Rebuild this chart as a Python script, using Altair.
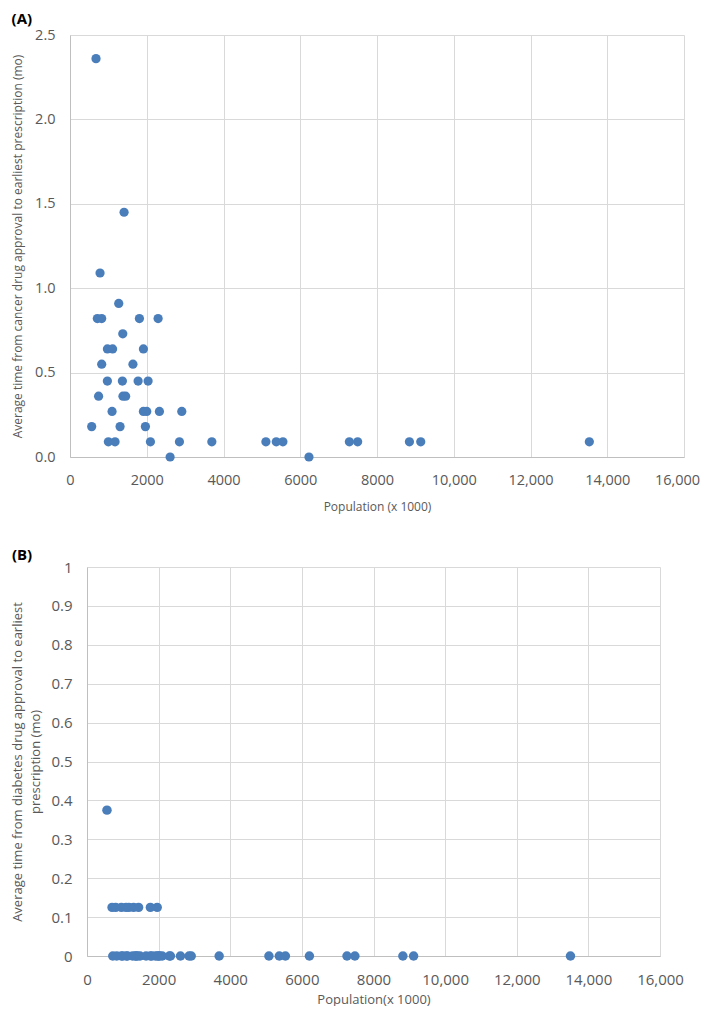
import altair as alt
import pandas as pd

# Panel A: cancer drugs
pop_a = [565, 678, 713, 745, 783, 826, 826, 975, 974, 1000, 1096, 1110, 1174, 1270, 1305,
         1375, 1365, 1409, 1380, 1450, 1640, 1775, 1809, 1913, 1913, 1965, 2000, 2035, 2096,
         2296, 2330, 2609, 2852, 2913, 3696, 5105, 5375, 5548, 6227, 7280, 7496, 8845, 9140, 13533]
time_a = [0.18, 2.36, 0.82, 0.36, 1.09, 0.82, 0.55, 0.64, 0.45, 0.09, 0.27, 0.64, 0.09, 0.91, 0.18,
          0.73, 0.45, 1.45, 0.36, 0.36, 0.55, 0.45, 0.82, 0.64, 0.27, 0.18, 0.27, 0.45, 0.09,
          0.82, 0.27, 0.0, 0.09, 0.27, 0.09, 0.09, 0.09, 0.09, 0.0, 0.09, 0.09, 0.09, 0.09, 0.09]

# Panel B: diabetes drugs
pop_b = [558,
         700, 800, 960, 1090, 1170, 1300, 1440, 1770, 1960,
         720, 830, 960, 1000, 1100, 1130, 1270, 1350, 1370, 1410, 1480, 1650, 1770, 1810,
         1910, 1970, 2000, 2030, 2100, 2300, 2330, 2610, 2850, 2910, 3690, 5080, 5370,
         5540, 6210, 7260, 7480, 8820, 9120, 13500]
time_b = [0.375,
          0.125, 0.125, 0.125, 0.125, 0.125, 0.125, 0.125, 0.125, 0.125,
          0, 0, 0, 0, 0, 0, 0, 0, 0, 0, 0, 0, 0, 0,
          0, 0, 0, 0, 0, 0, 0, 0, 0, 0, 0, 0, 0,
          0, 0, 0, 0, 0, 0, 0]

x_ticks = [0, 2000, 4000, 6000, 8000, 10000, 12000, 14000, 16000]
ya_ticks = [0, 0.5, 1.0, 1.5, 2.0, 2.5]
yb_ticks = [0, 0.1, 0.2, 0.3, 0.4, 0.5, 0.6, 0.7, 0.8, 0.9, 1.0]

FONT = "Open Sans"
DOT = "#4a7ebb"
GRID = "#d9d9d9"
TXT = "#595959"
xlabel = "datum.value >= 10000 ? format(datum.value, ',') : format(datum.value, 'd')"

dfa = pd.DataFrame({"pop": pop_a, "t": time_a})
dfb = pd.DataFrame({"pop": pop_b, "t": time_b})

chart_a = alt.Chart(dfa).mark_circle(size=85, color=DOT, opacity=1).encode(
    x=alt.X("pop:Q", scale=alt.Scale(domain=[0, 16000], nice=False),
            axis=alt.Axis(values=x_ticks, labelExpr=xlabel, title="Population (x 1000)",
                          labelOffset={"condition": {"test": "datum.value === 16000", "value": -7},
                                       "value": 0},
                          labelFontSize=14.5, titleFontSize=12, labelPadding=16, titlePadding=15)),
    y=alt.Y("t:Q", scale=alt.Scale(domain=[0, 2.5], nice=False),
            axis=alt.Axis(values=ya_ticks, format=".1f",
                          title="Average time from cancer drug approval to earliest prescription (mo)",
                          labelFontSize=14.5, titleFontSize=12, labelPadding=15, titlePadding=10)),
).properties(
    width=614, height=422,
    title=alt.TitleParams("(A)", anchor="start", frame="bounds", fontSize=15,
                          fontWeight="bold", font=FONT, color="#000000", offset=0),
)

chart_b = alt.Chart(dfb).mark_circle(size=90, color=DOT, opacity=1).encode(
    x=alt.X("pop:Q", scale=alt.Scale(domain=[0, 16000], nice=False),
            axis=alt.Axis(values=x_ticks, labelExpr=xlabel, title="Population(x 1000)",
                          labelFontSize=15, titleFontSize=13, labelPadding=16, titlePadding=6)),
    y=alt.Y("t:Q", scale=alt.Scale(domain=[0, 1], nice=False),
            axis=alt.Axis(values=yb_ticks, format=".1~f",
                          title=["Average time from diabetes drug approval to earliest",
                                 "prescription (mo)"],
                          titleLineHeight=18,
                          labelFontSize=15, titleFontSize=13, labelPadding=15, titlePadding=8)),
).properties(
    width=573, height=389,
    title=alt.TitleParams("(B)", anchor="start", frame="bounds", fontSize=15,
                          fontWeight="bold", font=FONT, color="#000000", offset=-3),
)

# zero-size spacer so that each panel's axis block starts at the left edge
spacer_df = pd.DataFrame({"v": [0]})
spacer = alt.Chart(spacer_df).mark_point(opacity=0, size=0).properties(width=1, height=1)

chart = alt.vconcat(
    alt.hconcat(spacer, chart_a, spacing=0),
    alt.hconcat(spacer, chart_b, spacing=0),
    spacing=35,
).resolve_scale(x="independent", y="independent").configure(
    padding={"top": 4, "left": 2, "right": 0, "bottom": 0}
).configure_axis(
    grid=True, gridColor=GRID, domainColor="#bfbfbf", ticks=False,
    labelColor=TXT, titleColor=TXT, labelFont=FONT, titleFont=FONT,
    titleFontWeight="normal", labelFlush=False, labelOverlap=False,
).configure_view(strokeWidth=0)

chart.save("out.html", embed_options={"renderer": "svg", "actions": False})
